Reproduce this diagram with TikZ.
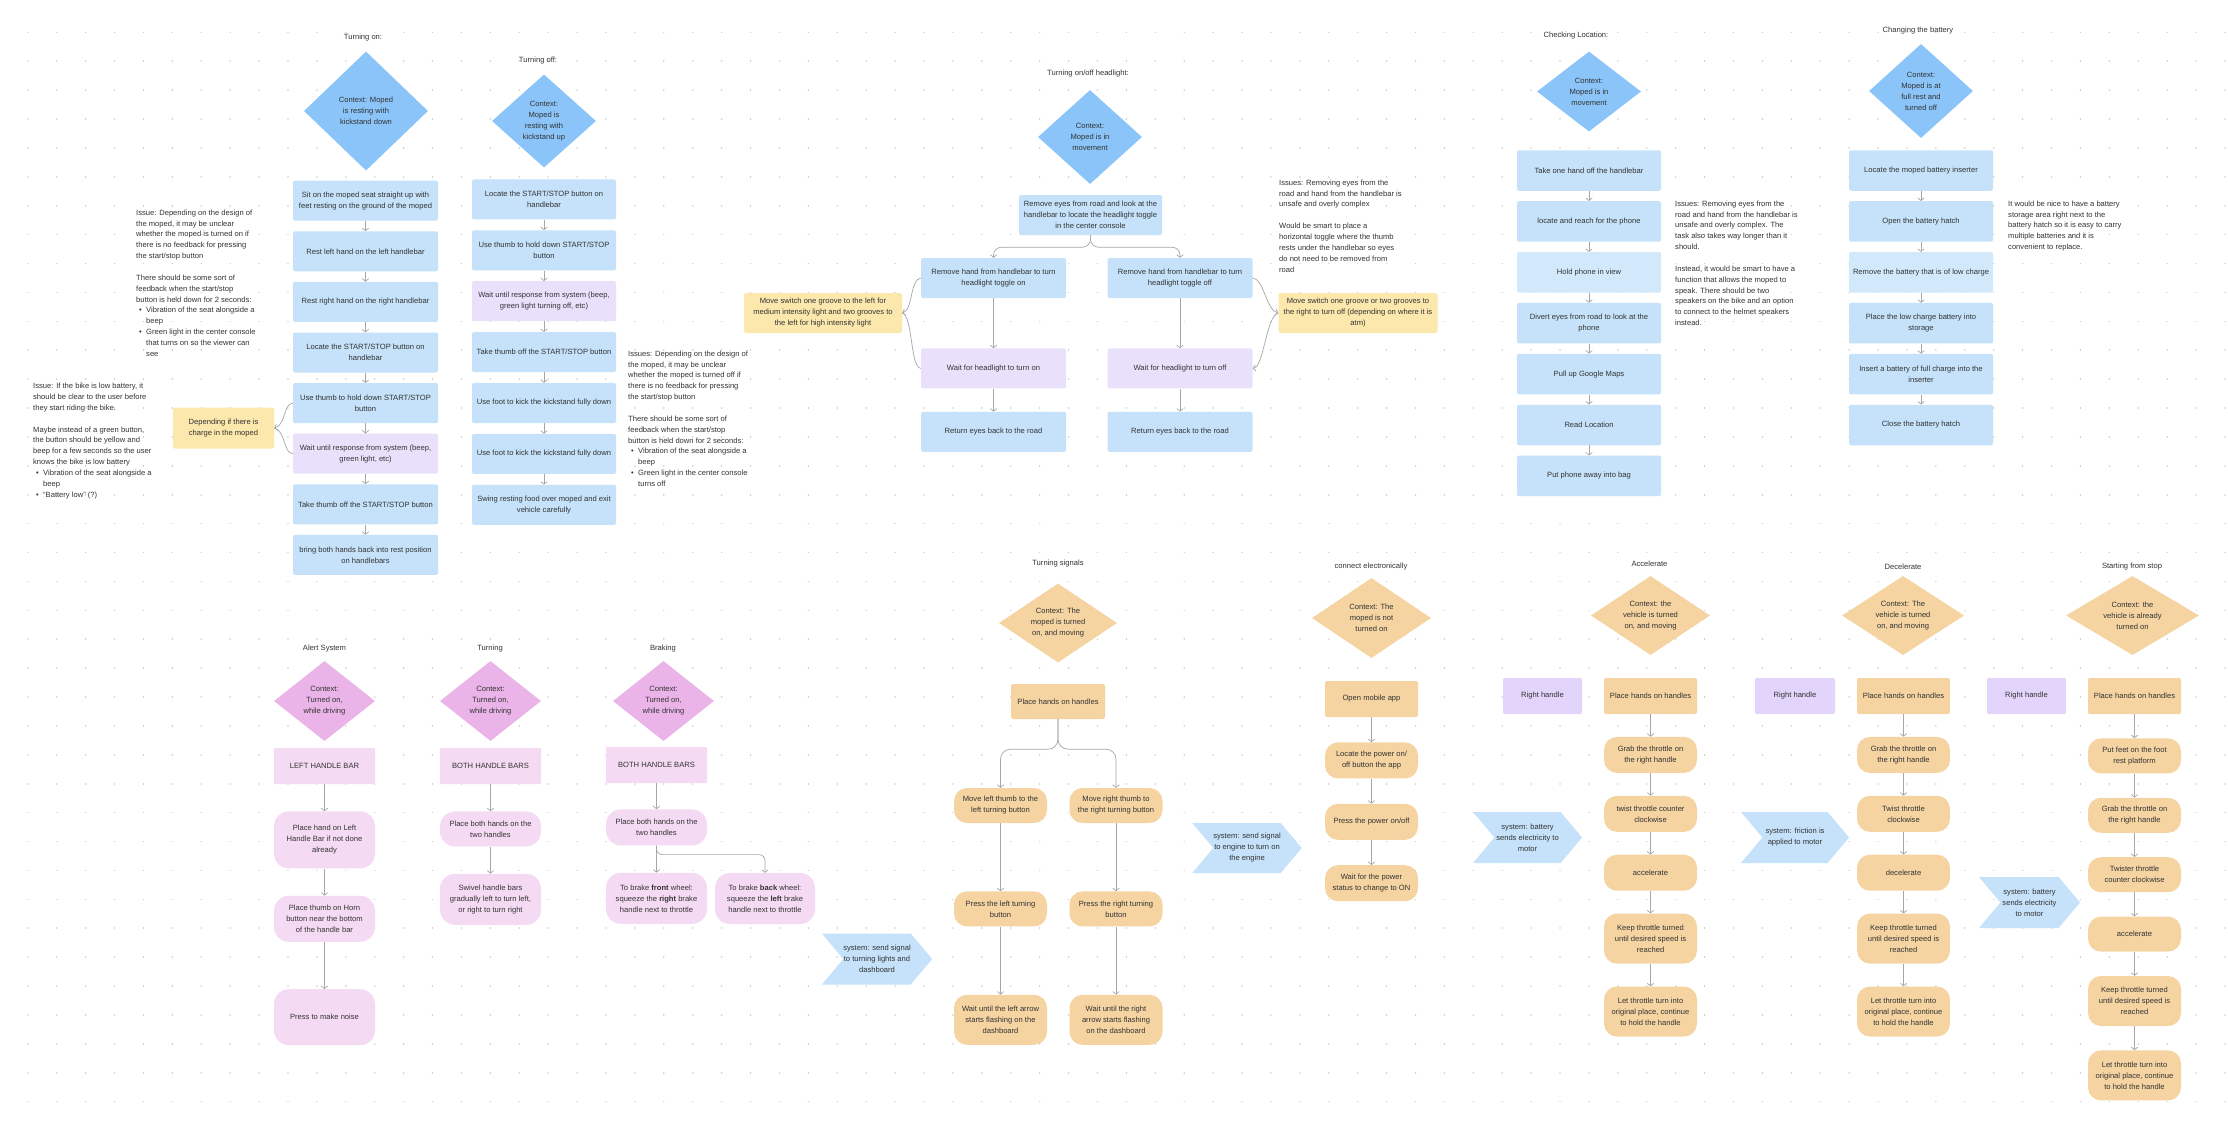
\documentclass[tikz,border=0pt]{standalone}
\usepackage{fontspec}
\setmainfont{Liberation Sans}
\usepackage{tikz}
\usetikzlibrary{shapes.geometric, shapes.symbols, arrows.meta, positioning, calc}
\definecolor{ctxBlue}{RGB}{139,196,248}
\definecolor{stepBlue}{RGB}{197,226,250}
\definecolor{paleBlue}{RGB}{210,233,251}
\definecolor{waitLilac}{RGB}{233,225,252}
\definecolor{noteGold}{RGB}{252,231,172}
\definecolor{ctxPink}{RGB}{234,180,232}
\definecolor{barPink}{RGB}{245,218,243}
\definecolor{ctxPeach}{RGB}{245,212,162}
\definecolor{handLilac}{RGB}{226,212,250}
\definecolor{inkGray}{RGB}{51,51,51}
\definecolor{lineGray}{RGB}{166,166,166}
\definecolor{dotGray}{RGB}{205,205,205}
\newcommand{\boxfont}{\fontsize{7.6}{11}\selectfont}
\newcommand{\memofont}{\fontsize{7.6}{10.85}\selectfont}
\newcommand{\noteitem}{\makebox[10pt][l]{\hspace{3pt}\textbullet}}
\newcommand{\noteindent}{\hspace*{10pt}}

\begin{document}
\begin{tikzpicture}[
    x=1pt, y=-1pt,
    every node/.style={font=\boxfont, text=inkGray, inner sep=0pt},
    ttl/.style={align=center},
    memo/.style={align=left, anchor=north west, font=\memofont},
    ctx/.style={diamond, aspect=1.3, align=center},
    stepbox/.style={rectangle, fill=stepBlue, rounded corners=2pt, align=center,
        minimum width=145pt, minimum height=40pt},
    waitbox/.style={stepbox, fill=waitLilac},
    notebox/.style={rectangle, fill=noteGold, rounded corners=2pt, align=center},
    barbox/.style={rectangle, fill=barPink, rounded corners=1pt, align=center,
        minimum width=101pt, minimum height=36pt},
    pillpink/.style={rectangle, fill=barPink, rounded corners=15pt, align=center,
        minimum width=101pt},
    peachbox/.style={rectangle, fill=ctxPeach, rounded corners=2pt, align=center,
        minimum width=93pt, minimum height=36pt},
    peachpill/.style={peachbox, rounded corners=13pt},
    handbox/.style={rectangle, fill=handLilac, rounded corners=2pt, align=center,
        minimum width=79pt, minimum height=36pt},
    sysflag/.style={signal, signal to=east, signal from=west, signal pointer angle=100,
        fill=stepBlue, align=center, minimum height=51pt},
    conn/.style={draw=lineGray, line width=0.7pt, -{Straight Barb[length=2.6pt,width=6.5pt]}},
    bracket/.style={draw=lineGray, line width=0.7pt}
]

% --- canvas and dot grid ---
\fill[white] (0,0) rectangle (2228,1120);
\useasboundingbox (0,0) rectangle (2228,1120);
\foreach \j in {0,...,37}
    \draw[dotGray, line width=1.6pt, line cap=round, dash pattern=on 0.01pt off 28.9pt]
        (27.8,{32.3+28.9*\j}) -- (2228,{32.3+28.9*\j});

% --- Turning on ---
\node[ttl] (onT) at (363,38) {Turning on:};
\node[ctx, fill=ctxBlue, minimum width=124pt, minimum height=119pt] (onC) at (366,111)
    {Context: Moped\\is resting with\\kickstand down};
\node[stepbox] (on1) at (365.5,200.7)
    {Sit on the moped seat straight up with\\feet resting on the ground of the moped};
\node[stepbox, below=10.2pt of on1] (on2) {Rest left hand on the left handlebar};
\node[stepbox, below=10.2pt of on2] (on3) {Rest right hand on the right handlebar};
\node[stepbox, below=10.2pt of on3] (on4) {Locate the START/STOP button on\\handlebar};
\node[stepbox, below=10.2pt of on4] (on5) {Use thumb to hold down START/STOP\\button};
\node[waitbox, below=10.2pt of on5] (on6) {Wait until response from system (beep,\\green light, etc)};
\node[stepbox, below=10.2pt of on6] (on7) {Take thumb off the START/STOP button};
\node[stepbox, below=10.2pt of on7] (on8) {bring both hands back into rest position\\on handlebars};
\foreach \a/\b in {on1/on2, on2/on3, on3/on4, on4/on5, on5/on6, on6/on7, on7/on8}
    \draw[conn] (\a) -- (\b);
\node[notebox, minimum width=101pt, minimum height=41pt] (onNote) at (223.5,428)
    {Depending if there is\\charge in the moped};
\draw[bracket, -{Straight Barb[length=2.6pt,width=6.5pt]}] (on5.west) .. controls (283,404) and (286,425) .. (onNote.east);
\draw[bracket] (on6.west) .. controls (283,453) and (286,431) .. (onNote.east);
\node[memo] (onMemo) at (136,209.5) {Issue: Depending on the design of\\
    the moped, it may be unclear\\
    whether the moped is turned on if\\
    there is no feedback for pressing\\
    the start/stop button\\[10.85pt]
    There should be some sort of\\
    feedback when the start/stop\\
    button is held down for 2 seconds:\\
    \noteitem Vibration of the seat alongside a\\
    \noteindent beep\\
    \noteitem Green light in the center console\\
    \noteindent that turns on so the viewer can\\
    \noteindent see};
\node[memo] (batMemo) at (33,383) {Issue: If the bike is low battery, it\\
    should be clear to the user before\\
    they start riding the bike.\\[10.85pt]
    Maybe instead of a green button,\\
    the button should be yellow and\\
    beep for a few seconds so the user\\
    knows the bike is low battery\\
    \noteitem Vibration of the seat alongside a\\
    \noteindent beep\\
    \noteitem ``Battery low'' (?)};

% --- Turning off ---
\node[ttl] (offT) at (538,61) {Turning off:};
\node[ctx, fill=ctxBlue, minimum width=104pt, minimum height=93pt] (offC) at (544,121)
    {Context:\\Moped is\\resting with\\kickstand up};
\node[stepbox, minimum width=144pt] (off1) at (544,199.4) {Locate the START/STOP button on\\handlebar};
\node[stepbox, minimum width=144pt, below=10.5pt of off1] (off2) {Use thumb to hold down START/STOP\\button};
\node[waitbox, minimum width=144pt, below=10.5pt of off2] (off3) {Wait until response from system (beep,\\green light turning off, etc)};
\node[stepbox, minimum width=144pt, below=10.5pt of off3] (off4) {Take thumb off the START/STOP button};
\node[stepbox, minimum width=144pt, below=10.5pt of off4] (off5) {Use foot to kick the kickstand fully down};
\node[stepbox, minimum width=144pt, below=10.5pt of off5] (off6) {Use foot to kick the kickstand fully down};
\node[stepbox, minimum width=144pt, below=10.5pt of off6] (off7) {Swing resting food over moped and exit\\vehicle carefully};
\foreach \a/\b in {off1/off2, off2/off3, off3/off4, off4/off5, off5/off6, off6/off7}
    \draw[conn] (\a) -- (\b);
\node[memo] (offMemo) at (628,350.5) {Issues: Depending on the design of\\
    the moped, it may be unclear\\
    whether the moped is turned off if\\
    there is no feedback for pressing\\
    the start/stop button\\[10.85pt]
    There should be some sort of\\
    feedback when the start/stop\\
    button is held down for 2 seconds:\\
    \noteitem Vibration of the seat alongside a\\
    \noteindent beep\\
    \noteitem Green light in the center console\\
    \noteindent turns off};

% --- Turning on/off headlight ---
\node[ttl] (hlT) at (1088,74) {Turning on/off headlight:};
\node[ctx, fill=ctxBlue, minimum width=104pt, minimum height=94pt] (hlC) at (1090,137)
    {Context:\\Moped is in\\movement};
\node[stepbox, minimum width=143pt] (hl0) at (1090.5,215)
    {Remove eyes from road and look at the\\handlebar to locate the headlight toggle\\in the center console};
\node[stepbox] (hlL) at (993.5,278) {Remove hand from handlebar to turn\\headlight toggle on};
\node[stepbox] (hlR) at (1180,278) {Remove hand from handlebar to turn\\headlight toggle off};
\node[waitbox, below=50pt of hlL] (hlWL) {Wait for headlight to turn on};
\node[waitbox, below=50pt of hlR] (hlWR) {Wait for headlight to turn off};
\node[stepbox, below=23pt of hlWL] (hlEL) {Return eyes back to the road};
\node[stepbox, below=23pt of hlWR] (hlER) {Return eyes back to the road};
\draw[conn, rounded corners=8pt] (hl0.south) -- ++(0,12) -| (hlL.north);
\draw[conn, rounded corners=8pt] (hl0.south) -- ++(0,12) -| (hlR.north);
\foreach \a/\b in {hlL/hlWL, hlWL/hlEL, hlR/hlWR, hlWR/hlER}
    \draw[conn] (\a) -- (\b);
\node[notebox, minimum width=158pt, minimum height=40pt] (hlNL) at (823,313)
    {Move switch one groove to the left for\\medium intensity light and two grooves to\\the left for high intensity light};
\node[notebox, minimum width=159pt, minimum height=40pt] (hlNR) at (1358,313)
    {Move switch one groove or two grooves to\\the right to turn off (depending on where it is\\atm)};
\draw[bracket, -{Straight Barb[length=2.6pt,width=6.5pt]}] (hlL.west) .. controls (910,279) and (913,310) .. (hlNL.east);
\draw[bracket] (hlWL.west) .. controls (910,367) and (913,316) .. (hlNL.east);
\draw[bracket, -{Straight Barb[length=2.6pt,width=6.5pt]}] (hlR.east) .. controls (1264,279) and (1266,310) .. (hlNR.west);
\draw[bracket, -{Straight Barb[length=2.6pt,width=6.5pt]}] (hlNR.west) .. controls (1266,316) and (1264,367) .. (hlWR.east);
\node[memo] (hlMemo) at (1279,179.5) {Issues: Removing eyes from the\\
    road and hand from the handlebar is\\
    unsafe and overly complex\\[10.85pt]
    Would be smart to place a\\
    horizontal toggle where the thumb\\
    rests under the handlebar so eyes\\
    do not need to be removed from\\
    road};

% --- Checking Location ---
\node[ttl] (locT) at (1576,36) {Checking Location:};
\node[ctx, fill=ctxBlue, minimum width=104pt, minimum height=80pt] (locC) at (1589,91.5)
    {Context:\\Moped is in\\movement};
\node[stepbox, minimum width=144pt, minimum height=40.5pt] (loc1) at (1589,170.5) {Take one hand off the handlebar};
\node[stepbox, minimum width=144pt, minimum height=40.5pt, below=10pt of loc1] (loc2) {locate and reach for the phone};
\node[stepbox, fill=paleBlue, minimum width=144pt, minimum height=40.5pt, below=10pt of loc2] (loc3) {Hold phone in view};
\node[stepbox, minimum width=144pt, minimum height=40.5pt, below=10pt of loc3] (loc4) {Divert eyes from road to look at the\\phone};
\node[stepbox, minimum width=144pt, minimum height=40.5pt, below=10pt of loc4] (loc5) {Pull up Google Maps};
\node[stepbox, minimum width=144pt, minimum height=40.5pt, below=10pt of loc5] (loc6) {Read Location};
\node[stepbox, minimum width=144pt, minimum height=40.5pt, below=10pt of loc6] (loc7) {Put phone away into bag};
\foreach \a/\b in {loc1/loc2, loc2/loc3, loc3/loc4, loc4/loc5, loc5/loc6, loc6/loc7}
    \draw[conn] (\a) -- (\b);
\node[memo] (locMemo) at (1675,200.5) {Issues: Removing eyes from the\\
    road and hand from the handlebar is\\
    unsafe and overly complex. The\\
    task also takes way longer than it\\
    should.\\[10.85pt]
    Instead, it would be smart to have a\\
    function that allows the moped to\\
    speak. There should be two\\
    speakers on the bike and an option\\
    to connect to the helmet speakers\\
    instead.};

% --- Changing the battery ---
\node[ttl] (batT) at (1918,31) {Changing the battery};
\node[ctx, fill=ctxBlue, minimum width=104pt, minimum height=94pt] (batC) at (1921,91)
    {Context:\\Moped is at\\full rest and\\turned off};
\node[stepbox, minimum width=144pt, minimum height=40.5pt] (bat1) at (1921,170.5) {Locate the moped battery inserter};
\node[stepbox, minimum width=144pt, minimum height=40.5pt, below=10pt of bat1] (bat2) {Open the battery hatch};
\node[stepbox, fill=paleBlue, minimum width=144pt, minimum height=40.5pt, below=10pt of bat2] (bat3) {Remove the battery that is of low charge};
\node[stepbox, minimum width=144pt, minimum height=40.5pt, below=10pt of bat3] (bat4) {Place the low charge battery into\\storage};
\node[stepbox, minimum width=144pt, minimum height=40.5pt, below=10pt of bat4] (bat5) {Insert a battery of full charge into the\\inserter};
\node[stepbox, minimum width=144pt, minimum height=40.5pt, below=10pt of bat5] (bat6) {Close the battery hatch};
\foreach \a/\b in {bat1/bat2, bat2/bat3, bat3/bat4, bat4/bat5, bat5/bat6}
    \draw[conn] (\a) -- (\b);
\node[memo] (batNote) at (2008,200.5) {It would be nice to have a battery\\
    storage area right next to the\\
    battery hatch so it is easy to carry\\
    multiple batteries and it is\\
    convenient to replace.};

% --- Alert System ---
\node[ttl] (alT) at (324.5,649) {Alert System};
\node[ctx, fill=ctxPink, minimum width=101pt, minimum height=80pt] (alC) at (324.5,701)
    {Context:\\Turned on,\\while driving};
\node[barbox] (al1) at (324.5,766) {LEFT HANDLE BAR};
\node[pillpink, minimum height=57pt, below=27pt of al1] (al2) {Place hand on Left\\Handle Bar if not done\\already};
\node[pillpink, minimum height=46pt, below=27pt of al2] (al3) {Place thumb on Horn\\button near the bottom\\of the handle bar};
\node[pillpink, minimum height=56pt, below=47pt of al3] (al4) {Press to make noise};
\foreach \a/\b in {al1/al2, al2/al3, al3/al4}
    \draw[conn] (\a) -- (\b);

% --- Turning ---
\node[ttl] (trT) at (490,649) {Turning};
\node[ctx, fill=ctxPink, minimum width=101pt, minimum height=80pt] (trC) at (490.5,701)
    {Context:\\Turned on,\\while driving};
\node[barbox] (tr1) at (490.5,766) {BOTH HANDLE BARS};
\node[pillpink, minimum height=35pt, below=27pt of tr1] (tr2) {Place both hands on the\\two handles};
\node[pillpink, minimum height=51pt, below=27pt of tr2] (tr3) {Swivel handle bars\\gradually left to turn left,\\or right to turn right};
\foreach \a/\b in {tr1/tr2, tr2/tr3}
    \draw[conn] (\a) -- (\b);

% --- Braking ---
\node[ttl] (bkT) at (663,649) {Braking};
\node[ctx, fill=ctxPink, minimum width=101pt, minimum height=80pt] (bkC) at (663.5,701)
    {Context:\\Turned on,\\while driving};
\node[barbox] (bk1) at (656.5,765) {BOTH HANDLE BARS};
\node[pillpink, minimum height=36pt, below=26pt of bk1] (bk2) {Place both hands on the\\two handles};
\node[pillpink, minimum height=51pt, below=27pt of bk2] (bkF)
    {To brake \textbf{front} wheel:\\squeeze the \textbf{right} brake\\handle next to throttle};
\node[pillpink, minimum width=100pt, minimum height=51pt] (bkB) at (765,898.5)
    {To brake \textbf{back} wheel:\\squeeze the \textbf{left} brake\\handle next to throttle};
\draw[conn] (bk1) -- (bk2);
\draw[conn] (bk2) -- (bkF);
\draw[conn, rounded corners=6pt] (bk2.south) -- ++(0,9) -| (bkB.north);

% --- Turning signals ---
\node[ttl] (tsT) at (1058,564) {Turning signals};
\node[ctx, fill=ctxPeach, minimum width=118pt, minimum height=79pt] (tsC) at (1058,623)
    {Context: The\\moped is turned\\on, and moving};
\node[peachbox, minimum width=94pt, minimum height=35pt] (ts1) at (1058,701.5) {Place hands on handles};
\node[peachpill, minimum height=35pt] (tsL) at (1000.5,805.5) {Move left thumb to the\\left turning button};
\node[peachpill, minimum height=35pt] (tsR) at (1116,805.5) {Move right thumb to\\the right turning button};
\node[peachpill, minimum height=35pt, below=68pt of tsL] (tsL2) {Press the left turning\\button};
\node[peachpill, minimum height=35pt, below=68pt of tsR] (tsR2) {Press the right turning\\button};
\node[peachpill, minimum height=50pt, below=68pt of tsL2] (tsL3) {Wait until the left arrow\\starts flashing on the\\dashboard};
\node[peachpill, minimum height=50pt, below=68pt of tsR2] (tsR3) {Wait until the right\\arrow starts flashing\\on the dashboard};
\draw[conn, rounded corners=10pt] (ts1.south) -- ++(0,30) -| (tsL.north);
\draw[conn, rounded corners=10pt] (ts1.south) -- ++(0,30) -| (tsR.north);
\foreach \a/\b in {tsL/tsL2, tsL2/tsL3, tsR/tsR2, tsR2/tsR3}
    \draw[conn] (\a) -- (\b);
\node[sysflag, minimum width=108pt] (tsSys) at (877,959) {system: send signal\\to turning lights and\\dashboard};

% --- connect electronically ---
\node[ttl] (ceT) at (1371,567) {connect electronically};
\node[ctx, fill=ctxPeach, minimum width=119pt, minimum height=80pt] (ceC) at (1371.5,618)
    {Context: The\\moped is not\\turned on};
\node[peachbox] (ce1) at (1371.5,699) {Open mobile app};
\node[peachpill, below=25pt of ce1] (ce2) {Locate the power on/\\off button the app};
\node[peachpill, below=25pt of ce2] (ce3) {Press the power on/off};
\node[peachpill, below=25pt of ce3] (ce4) {Wait for the power\\status to change to ON};
\foreach \a/\b in {ce1/ce2, ce2/ce3, ce3/ce4}
    \draw[conn] (\a) -- (\b);
\node[sysflag, minimum width=106pt, minimum height=50pt] (ceSys) at (1247,848) {system: send signal\\to engine to turn on\\the engine};

% --- Accelerate ---
\node[ttl] (acT) at (1649.5,564) {Accelerate};
\node[ctx, fill=ctxPeach, minimum width=119pt, minimum height=79pt] (acC) at (1650.5,615.5)
    {Context: the\\vehicle is turned\\on, and moving};
\node[handbox] (acH) at (1542.5,696) {Right handle};
\node[peachbox] (ac1) at (1650.5,696) {Place hands on handles};
\node[peachpill, below=22.5pt of ac1] (ac2) {Grab the throttle on\\the right handle};
\node[peachpill, below=22.5pt of ac2] (ac3) {twist throttle counter\\clockwise};
\node[peachpill, below=22.5pt of ac3] (ac4) {accelerate};
\node[peachpill, minimum height=50pt, below=22.5pt of ac4] (ac5) {Keep throttle turned\\until desired speed is\\reached};
\node[peachpill, minimum height=50pt, below=22.5pt of ac5] (ac6) {Let throttle turn into\\original place, continue\\to hold the handle};
\foreach \a/\b in {ac1/ac2, ac2/ac3, ac3/ac4, ac4/ac5, ac5/ac6}
    \draw[conn] (\a) -- (\b);
\node[sysflag, minimum width=109pt] (acSys) at (1527.5,837.5) {system: battery\\sends electricity to\\motor};

% --- Decelerate ---
\node[ttl] (dcT) at (1903,567) {Decelerate};
\node[ctx, fill=ctxPeach, minimum width=122pt, minimum height=79pt] (dcC) at (1903,615.5)
    {Context: The\\vehicle is turned\\on, and moving};
\node[handbox, minimum width=80pt] (dcH) at (1795,696) {Right handle};
\node[peachbox] (dc1) at (1903.5,696) {Place hands on handles};
\node[peachpill, below=22.5pt of dc1] (dc2) {Grab the throttle on\\the right handle};
\node[peachpill, below=22.5pt of dc2] (dc3) {Twist throttle\\clockwise};
\node[peachpill, below=22.5pt of dc3] (dc4) {decelerate};
\node[peachpill, minimum height=50pt, below=22.5pt of dc4] (dc5) {Keep throttle turned\\until desired speed is\\reached};
\node[peachpill, minimum height=50pt, below=22.5pt of dc5] (dc6) {Let throttle turn into\\original place, continue\\to hold the handle};
\foreach \a/\b in {dc1/dc2, dc2/dc3, dc3/dc4, dc4/dc5, dc5/dc6}
    \draw[conn] (\a) -- (\b);
\node[sysflag, minimum width=108pt] (dcSys) at (1795,837.5) {system: friction is\\applied to motor};

% --- Starting from stop ---
\node[ttl] (stT) at (2132,567) {Starting from stop};
\node[ctx, fill=ctxPeach, minimum width=133pt, minimum height=79pt] (stC) at (2132.5,615.5)
    {Context: the\\vehicle is already\\turned on};
\node[handbox] (stH) at (2026.5,696) {Right handle};
\node[peachbox] (st1) at (2134.5,696) {Place hands on handles};
\node[peachpill, minimum height=35pt, below=24pt of st1] (st2) {Put feet on the foot\\rest platform};
\node[peachpill, minimum height=35pt, below=24pt of st2] (st3) {Grab the throttle on\\the right handle};
\node[peachpill, minimum height=35pt, below=24pt of st3] (st4) {Twister throttle\\counter clockwise};
\node[peachpill, minimum height=35pt, below=24pt of st4] (st5) {accelerate};
\node[peachpill, minimum height=50pt, below=24pt of st5] (st6) {Keep throttle turned\\until desired speed is\\reached};
\node[peachpill, minimum height=50pt, below=24pt of st6] (st7) {Let throttle turn into\\original place, continue\\to hold the handle};
\foreach \a/\b in {st1/st2, st2/st3, st3/st4, st4/st5, st5/st6, st6/st7}
    \draw[conn] (\a) -- (\b);
\node[sysflag, minimum width=101pt] (stSys) at (2029.5,902.5) {system: battery\\sends electricity\\to motor};

\end{tikzpicture}
\end{document}
